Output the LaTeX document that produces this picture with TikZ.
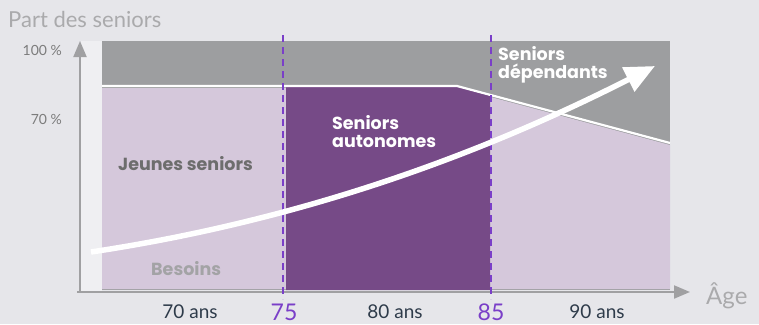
\documentclass[tikz,border=0pt]{standalone}
\usepackage{fontspec}
\setmainfont{Lato}
\newfontfamily\geo{Poppins}
\usetikzlibrary{arrows.meta}
\definecolor{bgc}{RGB}{230,230,234}
\definecolor{band}{RGB}{157,158,160}
\definecolor{lpurp}{RGB}{213,200,219}
\definecolor{dpurp}{RGB}{118,74,135}
\definecolor{dash}{RGB}{122,63,200}
\definecolor{tdark}{RGB}{46,59,74}
\definecolor{tgray}{RGB}{109,109,109}
\definecolor{tlight}{RGB}{163,163,165}
\definecolor{axisc}{RGB}{160,160,162}
\definecolor{titlec}{RGB}{170,170,172}
\definecolor{inner}{RGB}{239,239,242}
\tikzset{
  axisline/.style={draw=axisc, line width=2pt, -{Triangle[length=16pt,width=13pt]}},
  divline/.style={draw=dash, line width=2.8pt, dash pattern=on 6.5pt off 5.5pt},
  lbl/.style={font=\fontsize{19}{19}\selectfont, text=tdark, inner sep=0pt},
  agenum/.style={font=\fontsize{23}{23}\selectfont, text=dash, inner sep=0pt},
  pct/.style={font=\fontsize{14}{14}\selectfont, text=tgray!90, inner sep=0pt, anchor=base east},
  zone/.style={font=\geo\bfseries\fontsize{17.5}{18}\selectfont, inner sep=0pt, align=left},
}
\begin{document}
\begin{tikzpicture}[x=1pt,y=-1pt]
\useasboundingbox (0,0) rectangle (759,324);
\fill[bgc] (0,0) rectangle (759,324);
% inner band
\fill[inner] (81,41) rectangle (102,291);
% gray band
\fill[band] (102,41) rectangle (670,290);
% light purple area
\path[fill=lpurp] (102,88) -- (457,88) -- (670,145) -- (670,289) -- (102,289) -- cycle;
% dark purple zone
\begin{scope}
\clip (286,0) rectangle (490,324);
\fill[dpurp] (102,87) -- (457,87) -- (670,144) -- (670,290) -- (102,290) -- cycle;
\end{scope}
% white separation line
\draw[white, line width=2.2pt] (102,86) -- (457,86) -- (670,143);
% axes
\coordinate (o) at (80,292);
\coordinate (ytip) at (80,41);
\coordinate (xtip) at (690,292);
\coordinate (xs) at (77,292);
\draw[axisline] (o) -- (ytip);
\draw[axisline] (xs) -- (xtip);
% dashed dividers
\coordinate (d1t) at (283,35);
\coordinate (d1b) at (283,299);
\coordinate (d2t) at (491,35);
\coordinate (d2b) at (491,299);
\draw[divline] (d1t) -- (d1b);
\draw[divline] (d2t) -- (d2b);
% big arrow
\coordinate (as) at (91,252);
\coordinate (ae) at (655,66);
\draw[white, line width=5.5pt, -{Triangle[length=30pt,width=26pt]}]
  (as) .. controls (291,222) and (470,160) .. (ae);
% texts
\node[font=\fontsize{22}{22}\selectfont, text=titlec, inner sep=0pt, anchor=base west] (title) at (8,27) {Part des seniors};
\node[pct] (p100) at (62,55) {100 \%};
\node[pct] (p70) at (62,124) {70 \%};
\node[zone, text=tgray, anchor=base west] (jeunes) at (118,170) {Jeunes seniors};
\node[zone, text=tlight, anchor=base west] (besoins) at (151,275) {Besoins};
\node[zone, text=white, anchor=north west] (auto) at (332,115) {Seniors\\autonomes};
\node[zone, text=white, anchor=north west] (dep) at (498,46) {Seniors\\dépendants};
\node[lbl, anchor=base] (a70) at (190,318) {70 ans};
\node[lbl, anchor=base] (a80) at (395,318) {80 ans};
\node[lbl, anchor=base] (a90) at (597,318) {90 ans};
\node[agenum, anchor=base] (a75) at (284,320) {75};
\node[agenum, anchor=base] (a85) at (491,320) {85};
\node[font=\fontsize{24}{24}\selectfont, text=titlec, inner sep=0pt, anchor=base west] (age) at (706,304) {Âge};
\end{tikzpicture}
\end{document}
